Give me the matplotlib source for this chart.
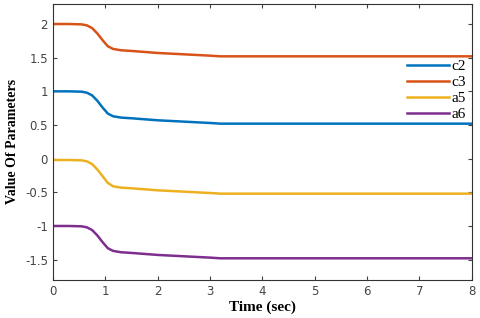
import numpy as np
import matplotlib.pyplot as plt

t = [0, 0.3, 0.55, 0.65, 0.75, 0.85, 0.95, 1.05, 1.15, 1.3, 1.5, 2.0, 2.5, 3.0, 3.2, 8.0]
c2 = [1.0, 1.0, 0.995, 0.98, 0.94, 0.86, 0.76, 0.67, 0.63, 0.61, 0.60, 0.57, 0.55, 0.53, 0.52, 0.52]
c3 = [2.0, 2.0, 1.995, 1.98, 1.94, 1.86, 1.76, 1.67, 1.63, 1.61, 1.60, 1.57, 1.55, 1.53, 1.52, 1.52]
a5 = [-0.02, -0.02, -0.025, -0.04, -0.08, -0.16, -0.26, -0.36, -0.41, -0.43, -0.44, -0.47, -0.49, -0.51, -0.52, -0.52]
a6 = [-1.0, -1.0, -1.005, -1.02, -1.06, -1.14, -1.24, -1.33, -1.37, -1.39, -1.40, -1.43, -1.45, -1.47, -1.48, -1.48]

labels = ['c2', 'c3', 'a5', 'a6']
colors = ['#0072BD', '#D95319', '#EDB120', '#7E2F8E']

fig = plt.figure(figsize=(4.8, 3.18), dpi=100)
ax = fig.add_axes([0.11, 0.12, 0.873, 0.868])

for y, lab, col in zip([c2, c3, a5, a6], labels, colors):
    ax.plot(t, y, color=col, lw=1.8, label=lab)

ax.set_xlim(0, 8)
ax.set_ylim(-1.8, 2.3)
ax.set_xticks(range(0, 9))
ax.set_yticks([-1.5, -1, -0.5, 0, 0.5, 1, 1.5, 2])
ax.set_yticklabels(['-1.5', '-1', '-0.5', '0', '0.5', '1', '1.5', '2'])
ax.tick_params(direction='in', labelsize=8.5, colors='#444444', top=True, right=True, length=3)
for s in ax.spines.values():
    s.set_color('#333333')
    s.set_linewidth(0.8)

ax.set_xlabel('Time (sec)', fontfamily='Liberation Serif', fontweight='bold', fontsize=11, labelpad=2)
ax.set_ylabel('Value Of Parameters', fontfamily='Liberation Serif', fontweight='bold', fontsize=10, labelpad=4)

leg = ax.legend(loc='upper right', bbox_to_anchor=(1.012, 0.836), frameon=False,
                prop={'family': 'Liberation Serif', 'size': 11},
                handlelength=2.7, handletextpad=0.2, labelspacing=0.15, borderpad=0.2)

fig.savefig('out.png')
